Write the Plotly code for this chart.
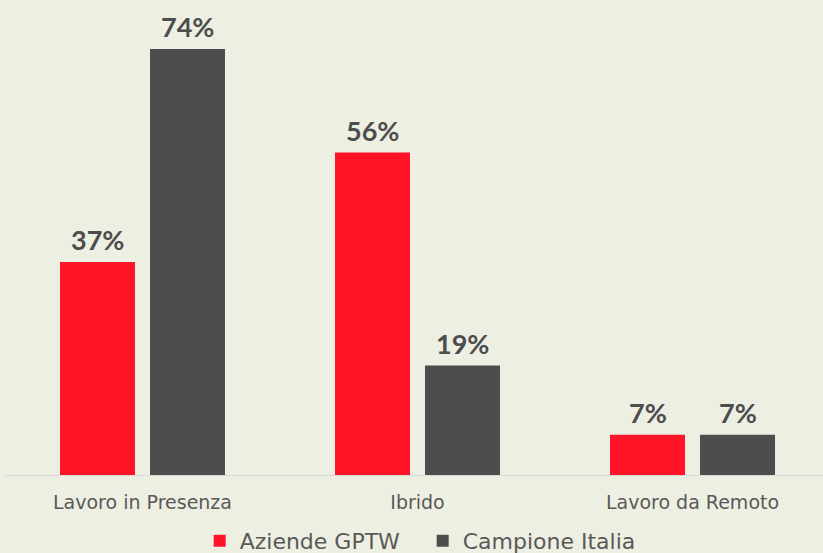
import plotly.graph_objects as go

# Work arrangement shares (%)
categories = ["Lavoro in Presenza", "Ibrido", "Lavoro da Remoto"]
series_names = ["Aziende GPTW", "Campione Italia"]
aziende_gptw = [37, 56, 7]
campione_italia = [74, 19, 7]

RED = "#FF1428"
GREY = "#4D4D4D"
BG = "#EEEFE3"
TEXT = "#595959"

BAR_W = 0.2727  # bar width in category units

fig = go.Figure()
for name, vals, col, off in [(series_names[0], aziende_gptw, RED, -0.3),
                             (series_names[1], campione_italia, GREY, 0.0273)]:
    fig.add_trace(go.Bar(
        x=categories, y=vals, name=name, width=BAR_W, offset=off,
        marker=dict(color=col, line=dict(width=0)),
    ))

# Value labels above each bar
for vals, shift in [(aziende_gptw, -45), (campione_italia, 45)]:
    for cat, v in zip(categories, vals):
        fig.add_annotation(
            x=cat, y=v, text=f"<b>{v}%</b>", showarrow=False,
            xref="x", yref="y", yanchor="bottom", xshift=shift, yshift=4,
            font=dict(family="Lato", size=27, color=GREY),
        )

fig.update_layout(
    width=823, height=553,
    margin=dict(l=5, r=0, t=0, b=78, autoexpand=False),
    paper_bgcolor=BG, plot_bgcolor=BG,
    barmode="overlay",
    font=dict(family="DejaVu Sans", color=TEXT),
    showlegend=True,
    legend=dict(
        orientation="h", x=0.238, xanchor="left",
        yref="container", y=0.022, yanchor="middle",
        font=dict(family="DejaVu Sans", size=22, color=TEXT),
        bgcolor="rgba(0,0,0,0)", itemwidth=30,
        entrywidth=178, entrywidthmode="pixels",
    ),
    xaxis=dict(
        range=[-0.5, 2.4745], showgrid=False, showline=True,
        linecolor="#D9D9D9", linewidth=1, ticks="", zeroline=False,
        tickfont=dict(family="DejaVu Sans", size=19, color=TEXT),
        ticklabelstandoff=10, automargin=False,
    ),
    yaxis=dict(range=[0, 82.5], visible=False, showgrid=False, zeroline=False),
)

fig.write_html("out.html")
